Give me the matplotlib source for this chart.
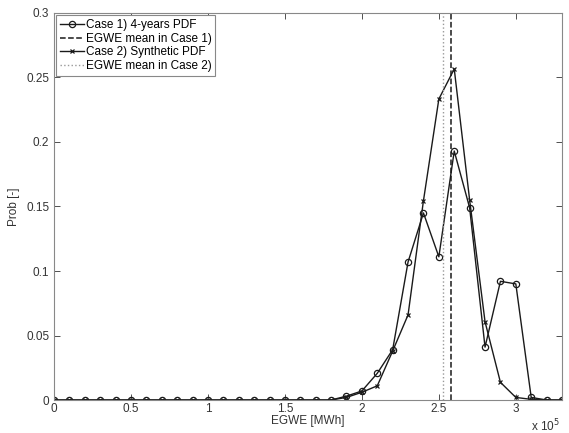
import matplotlib
matplotlib.use("Agg")
import matplotlib.pyplot as plt
import numpy as np

plt.rcParams['font.family'] = ['Liberation Sans', 'DejaVu Sans']

# EGWE bins [MWh]
egwe = [i * 1e4 for i in range(34)]

case1_pdf = [0, 0, 0, 0, 0, 0, 0, 0, 0, 0,
             0, 0, 0, 0, 0, 0, 0, 0, 0, 0.003,
             0.007, 0.0207, 0.039, 0.107, 0.145, 0.111, 0.193, 0.149, 0.041, 0.092,
             0.090, 0.002, 0, 0]
case2_pdf = [0, 0, 0, 0, 0, 0, 0, 0, 0, 0,
             0, 0, 0, 0, 0, 0, 0, 0, 0, 0.002,
             0.006, 0.011, 0.038, 0.066, 0.1545, 0.2333, 0.2566, 0.155, 0.0607, 0.0137,
             0.002, 0.0005, 0, 0]
mean_case1 = 2.582e5
mean_case2 = 2.528e5

xticks = [0, 0.5e5, 1e5, 1.5e5, 2e5, 2.5e5, 3e5]
xticklabels = ['0', '0.5', '1', '1.5', '2', '2.5', '3']
yticks = [0, 0.05, 0.1, 0.15, 0.2, 0.25, 0.3]
yticklabels = ['0', '0.05', '0.1', '0.15', '0.2', '0.25', '0.3']

fig = plt.figure(figsize=(5.69, 4.33), dpi=100)
ax = fig.add_axes([0.0949, 0.0762, 0.8928, 0.8938])

col = '#1a1a1a'
ax.plot(egwe, case1_pdf, '-o', color=col, lw=1.0, ms=4.5, mfc='none', mew=0.9,
        label='Case 1) 4-years PDF')
ax.axvline(mean_case1, color=col, ls='--', lw=1.1, label='EGWE mean in Case 1)')
ax.plot(egwe, case2_pdf, '-x', color=col, lw=1.0, ms=3.5, mew=0.9,
        label='Case 2) Synthetic PDF')
ax.axvline(mean_case2, color='#999999', ls=':', lw=1.0, label='EGWE mean in Case 2)')

ax.set_xlim(0, 3.3e5)
ax.set_ylim(0, 0.3)
ax.set_xticks(xticks)
ax.set_xticklabels(xticklabels)
ax.set_yticks(yticks)
ax.set_yticklabels(yticklabels)
ax.tick_params(direction='in', top=True, right=True, labelsize=8.5,
               colors='#333333', length=4, width=0.6)
ax.tick_params(axis='x', pad=2)
for s in ax.spines.values():
    s.set_color('#888888')
    s.set_linewidth(0.8)

ax.set_xlabel('EGWE [MWh]', fontsize=8.5, color='#333333', labelpad=0)
ax.set_ylabel('Prob [-]', fontsize=8.5, color='#333333', labelpad=4)
ax.text(0.995, -0.045, r'x 10$^5$', transform=ax.transAxes, ha='right', va='top',
        fontsize=8.5, color='#333333')

leg = ax.legend(loc='upper left', fontsize=8.5, handlelength=2.0, handletextpad=0.2,
                borderpad=0.3, labelspacing=0.15, fancybox=False, framealpha=1,
                edgecolor='#888888', borderaxespad=0.2)
leg.get_frame().set_linewidth(0.8)

fig.savefig('out.png', dpi=100)
